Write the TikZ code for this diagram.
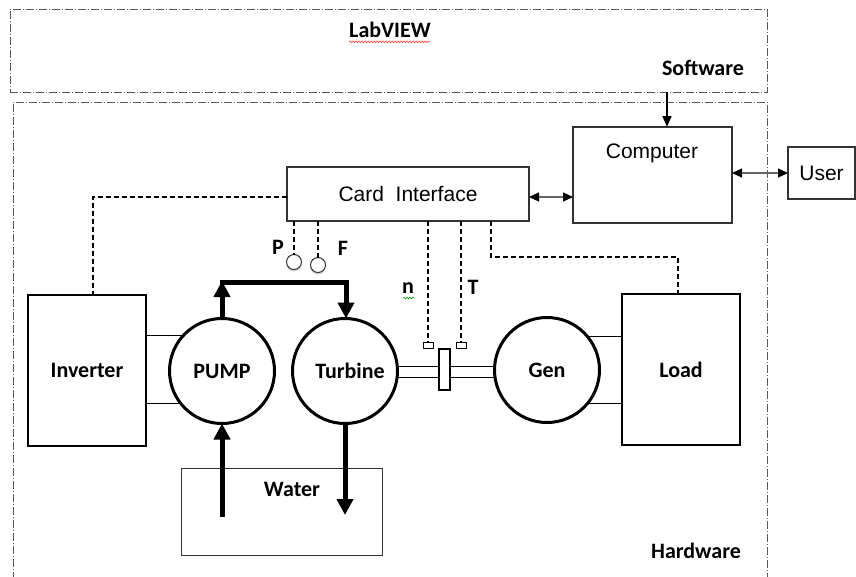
\documentclass[tikz,border=0pt]{standalone}
\usepackage{fontspec}
\setmainfont{Carlito}
\newfontfamily\arialf{Liberation Sans}
\usetikzlibrary{arrows.meta,shadows,decorations.pathmorphing}
\begin{document}
\begin{tikzpicture}[x=1pt,y=-1pt,
  every node/.style={inner sep=0pt,outer sep=0pt},
  lbl/.style={font=\fontsize{22}{26}\selectfont\bfseries},
  alabel/.style={font=\arialf\fontsize{21}{25}\selectfont},
  border/.style={draw=black!65, line width=1pt, dash pattern=on 8pt off 2pt on 1pt off 2pt},
  thinbox/.style={draw=black!80, line width=1.1pt, rectangle},
  heavybox/.style={draw=black, line width=2pt, rectangle},
  machine/.style={draw=black, line width=3pt, circle, minimum size=105pt},
  signal/.style={draw=black, line width=1.6pt, dash pattern=on 5pt off 3pt},
  pipe/.style={draw=black, line width=5pt},
  pipehead/.style={-{Triangle[length=16pt,width=16pt]}},
  dbl/.style={draw=black!60, line width=1.2pt, >={Triangle[length=10pt,width=9pt,color=black]}, <->},
  single/.style={draw=black, line width=1.5pt, -{Triangle[length=11pt,width=9pt]}},
  sensor/.style={draw=black, line width=1pt, rectangle, minimum width=10pt, minimum height=6pt},
  gauge/.style={draw=black!80, line width=1pt, circle, minimum size=15pt, fill=white,
    drop shadow={shadow xshift=0pt, shadow yshift=-2pt, opacity=0.35}},
  squiggle/.style={line width=0.6pt, decorate, decoration={snake, amplitude=0.9pt, segment length=3pt}},
]
\useasboundingbox (0,0) rectangle (856,576);

% Software / Hardware frames
\node[border, rectangle, minimum width=757pt, minimum height=83pt] (sw) at (388.5,50.5) {};
\coordinate (hwtl) at (13,102);
\coordinate (hwtr) at (767,102);
\draw[border] (13,580) -- (hwtl) -- (hwtr) -- (767,580);
\node[lbl] (labview) at (390,30) {LabVIEW};
\draw[squiggle, red!80] (labview.south west) ++(0,4) -- ++(81,0);
\node[lbl] (software) at (703,68) {Software};
\node[lbl] (hardware) at (696,551) {Hardware};

% Computer, user, card
\node[thinbox, minimum width=159pt, minimum height=96pt] (comp) at (652.5,175) {};
\node[alabel] (comptext) at (652,153) {Computer};
\node[thinbox, minimum width=67pt, minimum height=52pt, alabel] (user) at (821.5,173) {User};
\node[thinbox, minimum width=242pt, minimum height=54pt, alabel] (card) at (408,194) {Card\ \ Interface};

% Inverter, Load
\node[heavybox, minimum width=118pt, minimum height=151pt, lbl] (inv) at (87,370.5) {Inverter};
\node[heavybox, minimum width=118pt, minimum height=151pt, lbl] (load) at (681,369.5) {Load};

% electrical links
\draw[line width=1pt] (inv.east |- 0,335) -- (222,335);
\draw[line width=1pt] (inv.east |- 0,403) -- (222,403);
\draw[line width=1pt] (load.west |- 0,336) -- (547,336);
\draw[line width=1pt] (load.west |- 0,403) -- (547,403);

% shaft
\draw[line width=1pt, fill=white] (345,366) rectangle (547,377);

% Machines
\node[machine, fill=white, lbl] (pump) at (222,371) {PUMP};
\node[machine, fill=white, lbl] (turb) at (345,371) {\hspace*{10pt}Turbine};
\node[machine, fill=white, lbl] (gen) at (547,370) {Gen};

% coupling and sensors
\node[draw, fill=white, line width=1.2pt, rectangle, minimum width=11pt, minimum height=41pt] (coup) at (444.5,369.5) {};
\node[sensor] (ns) at (428,345) {};
\node[sensor] (ts) at (461,345) {};
\node[gauge] (pc) at (294,262) {};
\node[gauge] (fc) at (318,265) {};

\node[lbl] (plbl) at (278,247) {P};
\node[lbl] (flbl) at (343,248) {F};
\node[lbl] (nlbl) at (408,288) {n};
\draw[squiggle, green!60!black] (403,298) -- (414,298);
\node[lbl] (tlbl) at (473,287) {T};

% Water
\node[draw=black!80, line width=1pt, rectangle, minimum width=201pt, minimum height=87pt] (water) at (281.5,511.5) {};
\node[lbl] (watertext) at (292,489) {Water};

% signals
\draw[signal] (card.south -| pc) -- (pc.north);
\draw[signal] (card.south -| fc) -- (fc.north);
\draw[signal] (card.south -| ns) -- (ns.north);
\draw[signal] (card.south -| ts) -- (ts.north);
\coordinate (lc1) at (491,257);
\coordinate (lc2) at (678,257);
\draw[signal] (card.south -| lc1) -- (lc1) -- (lc2) -- (load.north -| lc2);
\coordinate (ic) at (93,197);
\draw[signal] (card.west |- ic) -- (ic) -- (inv.north -| ic);

% arrows
\coordinate (ay) at (0,197);
\draw[dbl] (card.east |- ay) -- (comp.west |- ay);
\draw[dbl] (comp.east |- user) -- (user.west);
\coordinate (sx) at (667,0);
\draw[single] (sw.south -| sx) -- (comp.north -| sx);

% pipes
\coordinate (pcorner) at (222,281);
\coordinate (tcorner) at (346,282.5);
\draw[pipe, pipehead] (pump.north) -- (pcorner);
\draw[pipe, pipehead, line join=miter] (219.5,282.5) -- (tcorner) -- (turb.north -| tcorner);
\coordinate (win) at (222,517);
\coordinate (wout) at (345,515);
\draw[pipe, pipehead] (win) -- (pump.south);
\draw[pipe, pipehead] (turb.south) -- (wout);
\end{tikzpicture}
\end{document}
